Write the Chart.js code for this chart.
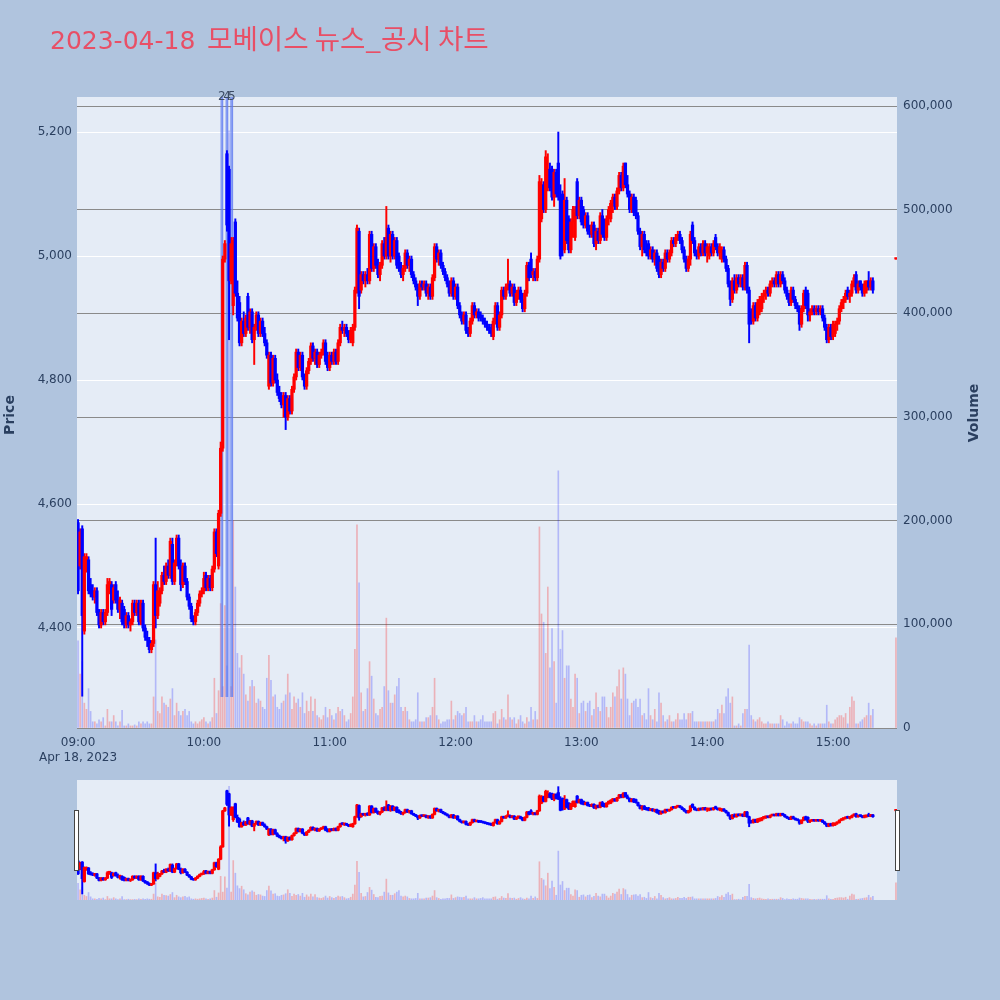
<!DOCTYPE html>
<html>
<head>
<meta charset="utf-8">
<script src="https://cdn.jsdelivr.net/npm/chart.js@4.4.1/dist/chart.umd.min.js"></script>
<style>
  html, body { margin: 0; padding: 0; background: #b0c4de; }
  #wrap { position: relative; width: 1000px; height: 1000px; }
  #main { position: absolute; left: 0; top: 0; }
  #slider { position: absolute; left: 67px; top: 775px; }
</style>
</head>
<body>
<div id="wrap">
  <canvas id="main" width="1000" height="775"></canvas>
  <canvas id="slider" width="840" height="130"></canvas>
</div>
<script>
// 2023-04-18 모베이스, 1분봉 (09:00 ~ 15:19, 15:30 종가)
const titleDate = "2023-04-18";
const titleName = "모베이스 뉴스_공시 차트";
const sessionMinutes = 380;      // 09:00 ~ 15:19
const auctionMinute = 390;       // 15:30 동시호가
const timeTicks = [0, 60, 120, 180, 240, 300, 360];
const timeLabels = ["09:00", "10:00", "11:00", "12:00", "13:00", "14:00", "15:00"];
const dateLabel = "Apr 18, 2023";
const priceTicks = [4400, 4600, 4800, 5000, 5200];
const volumeTicks = [0, 100000, 200000, 300000, 400000, 500000, 600000];

const opens = [
  4570,4500,4560,4395,4495,4510,4470,4460,4450,4460, 4425,4405,4425,4410,4425,4470,4470,4445,4470,4445,
  4430,4440,4430,4405,4420,4405,4410,4440,4425,4440, 4410,4440,4400,4385,4380,4365,4375,4470,4420,4440,
  4460,4485,4475,4500,4485,4535,4475,4505,4545,4500, 4470,4500,4475,4450,4435,4415,4410,4425,4440,4455,
  4460,4485,4465,4480,4465,4495,4555,4500,4585,4690, 4995,5165,5140,4960,4920,5055,4940,4925,4860,4895,
  4875,4935,4885,4910,4865,4885,4905,4875,4895,4875, 4860,4790,4840,4795,4835,4800,4780,4770,4760,4775,
  4740,4770,4750,4785,4805,4845,4820,4840,4805,4790, 4815,4830,4855,4835,4845,4825,4840,4845,4860,4830,
  4820,4840,4830,4845,4830,4860,4885,4880,4885,4875, 4865,4860,4885,4945,5040,4945,4970,4960,4970,4960,
  5035,4980,5015,4985,4970,4985,5020,5000,5045,5000, 5035,5000,5025,5000,4980,4970,4980,5005,4985,4995,
  4970,4960,4950,4935,4955,4950,4955,4940,4950,4935, 4965,5015,4995,5005,4985,4975,4965,4955,4940,4960,
  4935,4950,4920,4905,4895,4905,4880,4875,4895,4920, 4905,4910,4905,4900,4895,4890,4885,4880,4870,4895,
  4920,4885,4905,4945,4935,4950,4955,4940,4950,4925, 4940,4945,4930,4915,4940,4985,4995,4970,4975,4965,
  4995,5060,5115,5075,5110,5140,5140,5095,5135,5150, 5095,5100,5010,5090,5060,5010,5055,5030,5120,5065,
  5090,5075,5050,5065,5040,5035,5050,5020,5040,5025, 5065,5055,5030,5060,5060,5085,5095,5080,5105,5130,
  5110,5150,5115,5100,5075,5095,5090,5065,5040,5015, 5035,5010,5020,5000,5010,4995,5005,4995,4970,4990,
  4980,5005,4995,5005,5025,5020,5030,5035,5025,5010, 4995,4980,4995,5050,5025,5005,5000,5015,5005,5020,
  5005,5000,5015,5005,5030,5015,5005,4995,5010,4995, 4980,4955,4930,4960,4945,4965,4955,4965,4950,4985,
  4945,4910,4895,4920,4900,4910,4915,4935,4940,4945, 4940,4955,4960,4955,4970,4955,4970,4960,4945,4935,
  4925,4945,4930,4920,4915,4890,4915,4945,4940,4905, 4910,4915,4910,4915,4910,4915,4900,4885,4865,4885,
  4870,4875,4890,4895,4915,4925,4930,4945,4935,4940, 4955,4970,4945,4960,4950,4940,4945,4960,4950,4960,
  4995
];
const highs = [
  4575,4560,4565,4520,4520,4515,4480,4470,4465,4465, 4430,4430,4430,4430,4480,4480,4475,4470,4475,4460,
  4450,4445,4435,4425,4425,4415,4445,4445,4445,4445, 4445,4445,4405,4395,4385,4380,4475,4545,4475,4465,
  4490,4500,4505,4510,4545,4545,4510,4550,4550,4510, 4505,4505,4480,4455,4440,4420,4430,4445,4460,4465,
  4490,4490,4485,4485,4500,4560,4560,4590,4700,5000, 5025,5170,5145,5030,5030,5060,4960,4935,4900,4910,
  4905,4940,4915,4915,4890,4910,4910,4900,4900,4885, 4865,4845,4845,4840,4840,4810,4790,4780,4780,4780,
  4775,4775,4790,4810,4850,4850,4845,4845,4810,4820, 4835,4860,4860,4850,4850,4845,4850,4865,4865,4845,
  4845,4845,4850,4850,4865,4890,4895,4890,4890,4880, 4885,4890,4950,5050,5045,4975,4975,4975,4980,5040,
  5040,5020,5020,4995,4990,5025,5030,5080,5050,5040, 5040,5030,5030,5005,4990,4985,5010,5010,5000,5000,
  4975,4965,4955,4960,4960,4960,4960,4955,4955,4970, 5020,5020,5010,5010,4990,4980,4970,4960,4965,4965,
  4955,4955,4925,4910,4910,4910,4885,4900,4925,4925, 4915,4915,4910,4905,4900,4895,4890,4890,4900,4925,
  4925,4910,4950,4950,4955,4995,4960,4955,4955,4945, 4950,4950,4940,4945,4990,4990,5005,4980,4980,5000,
  5130,5125,5120,5170,5165,5150,5145,5140,5140,5200, 5115,5105,5125,5095,5065,5060,5080,5080,5125,5095,
  5095,5080,5070,5070,5050,5055,5055,5045,5045,5070, 5075,5060,5065,5080,5090,5100,5100,5110,5135,5135,
  5150,5150,5130,5105,5100,5100,5095,5070,5045,5040, 5040,5025,5025,5015,5015,5010,5010,5000,4995,4995,
  5010,5010,5010,5030,5030,5035,5040,5040,5030,5015, 5000,5000,5040,5055,5030,5010,5020,5020,5025,5025,
  5020,5020,5020,5025,5035,5020,5020,5015,5015,5000, 4985,4960,4965,4970,4970,4970,4970,4970,4990,4990,
  4950,4915,4925,4925,4930,4935,4940,4945,4950,4950, 4960,4965,4965,4975,4975,4975,4975,4965,4950,4940,
  4950,4950,4935,4925,4920,4920,4945,4950,4945,4915, 4920,4920,4920,4920,4920,4920,4905,4890,4890,4890,
  4895,4895,4900,4920,4930,4935,4945,4950,4945,4960, 4970,4975,4960,4960,4955,4960,4960,4975,4965,4965,
  4995
];
const lows = [
  4455,4495,4290,4390,4490,4455,4450,4445,4440,4420, 4400,4400,4405,4405,4420,4455,4420,4440,4440,4425,
  4415,4405,4400,4400,4400,4395,4405,4420,4420,4405, 4405,4395,4380,4370,4360,4360,4370,4400,4415,4435,
  4455,4470,4470,4480,4480,4470,4470,4500,4495,4460, 4465,4470,4445,4430,4410,4405,4405,4420,4435,4450,
  4455,4460,4460,4460,4460,4490,4515,4495,4580,4685, 4990,5040,4865,4955,4905,4935,4895,4855,4855,4870,
  4870,4880,4875,4860,4825,4880,4870,4870,4870,4855, 4835,4785,4790,4790,4795,4775,4765,4755,4740,4720,
  4735,4745,4745,4780,4800,4815,4815,4800,4785,4785, 4810,4825,4830,4825,4820,4820,4835,4840,4825,4815,
  4815,4825,4825,4825,4825,4855,4875,4870,4870,4860, 4860,4855,4880,4940,4915,4940,4955,4950,4955,4955,
  4975,4975,4980,4965,4960,4980,4995,4995,4995,4990, 4995,4995,4980,4975,4965,4960,4975,4980,4975,4965,
  4955,4945,4920,4930,4945,4945,4935,4930,4930,4930, 4960,4990,4985,4980,4970,4960,4950,4935,4935,4930,
  4930,4915,4900,4890,4890,4875,4870,4870,4890,4900, 4900,4895,4895,4890,4885,4880,4875,4870,4865,4890,
  4880,4880,4900,4930,4930,4945,4935,4935,4920,4920, 4930,4925,4910,4910,4935,4960,4965,4960,4960,4960,
  4990,5055,5070,5070,5105,5105,5090,5080,5095,5090, 4995,5000,5005,5020,5005,5005,5030,5025,5060,5060,
  5050,5045,5045,5035,5030,5030,5015,5010,5020,5020, 5030,5025,5025,5050,5055,5070,5075,5075,5100,5105,
  5105,5110,5095,5070,5070,5065,5060,5035,5010,5000, 5005,5000,4995,4995,4990,4985,4975,4965,4965,4975,
  4975,4990,4990,5000,5015,5015,5025,5020,5005,4990, 4975,4975,4985,5020,5000,4995,4995,5000,5000,5000,
  4990,4995,5000,5000,5010,5000,4995,4990,4990,4975, 4950,4920,4925,4940,4940,4950,4950,4945,4945,4940,
  4860,4890,4890,4895,4895,4905,4910,4925,4930,4935, 4935,4950,4950,4950,4950,4950,4955,4940,4930,4920,
  4920,4925,4915,4910,4880,4885,4910,4915,4895,4895, 4905,4905,4905,4905,4905,4895,4880,4860,4860,4865,
  4865,4870,4880,4890,4910,4915,4925,4930,4925,4935, 4950,4940,4940,4945,4935,4935,4940,4945,4945,4940,
  4995
];
const closes = [
  4460,4555,4420,4515,4515,4460,4455,4450,4460,4425, 4405,4425,4410,4425,4470,4475,4430,4465,4445,4430,
  4445,4410,4405,4420,4405,4410,4440,4425,4440,4410, 4440,4400,4385,4380,4365,4375,4470,4420,4460,4460,
  4485,4475,4500,4485,4540,4475,4505,4545,4500,4470, 4500,4475,4450,4435,4415,4410,4425,4440,4455,4460,
  4480,4465,4480,4465,4495,4555,4520,4585,4690,4995, 5020,5050,4960,5020,5025,4940,4900,4860,4895,4875,
  4900,4885,4910,4865,4885,4905,4875,4895,4875,4860, 4840,4840,4795,4835,4800,4780,4770,4760,4775,4740,
  4770,4750,4785,4805,4845,4820,4840,4805,4790,4815, 4830,4855,4835,4845,4825,4840,4845,4860,4830,4820,
  4840,4830,4845,4830,4860,4885,4880,4885,4875,4865, 4880,4885,4945,5045,4935,4970,4960,4970,4960,5035,
  4980,5015,4985,4970,4985,5020,5000,5030,5000,5035, 5000,5025,4985,4980,4970,4980,5005,4985,4995,4970,
  4960,4950,4935,4955,4950,4955,4940,4950,4935,4965, 5015,4995,5005,4985,4975,4965,4955,4940,4960,4935,
  4950,4920,4905,4895,4905,4880,4875,4895,4920,4905, 4910,4900,4900,4895,4890,4885,4880,4875,4895,4920,
  4885,4905,4945,4935,4950,4955,4940,4950,4925,4940, 4945,4930,4915,4940,4985,4965,4970,4975,4965,4995,
  5120,5115,5075,5160,5140,5110,5095,5135,5100,5095, 5000,5010,5090,5025,5010,5055,5075,5070,5065,5090,
  5055,5050,5065,5040,5035,5050,5020,5040,5025,5065, 5035,5030,5060,5075,5085,5095,5080,5105,5130,5110,
  5145,5115,5100,5075,5095,5070,5065,5040,5015,5035, 5010,5005,5000,5010,4995,5005,4980,4970,4990,4980,
  5005,4995,5005,5025,5020,5030,5035,5025,5010,4995, 4980,4995,5035,5025,5005,5000,5015,5005,5020,5005,
  5015,5015,5005,5020,5015,5005,5015,5010,4995,4980, 4955,4930,4960,4945,4965,4955,4965,4950,4985,4945,
  4890,4895,4920,4900,4925,4930,4935,4940,4945,4940, 4955,4960,4955,4970,4955,4970,4960,4945,4935,4925,
  4945,4930,4920,4915,4890,4915,4940,4920,4905,4910, 4915,4910,4915,4910,4915,4900,4885,4865,4885,4870,
  4890,4890,4895,4915,4925,4930,4940,4935,4940,4955, 4965,4945,4955,4950,4940,4955,4960,4950,4960,4945,
  4995
];
// 거래량 (천 주)
const volumeThousands = [
  84,52,64,24,18,38,16,6,6,4, 8,6,10,2,18,6,6,12,6,2,
  6,17,2,2,4,2,2,3,2,6, 4,6,4,6,4,4,30,85,16,14,
  30,24,22,20,28,38,12,24,16,12, 16,18,12,16,6,4,6,4,6,8,
  10,6,4,6,10,48,14,36,120,40, 118,60,576,40,200,136,72,58,70,52,
  32,26,40,46,40,24,28,26,20,18, 48,70,46,30,32,20,18,24,26,32,
  52,34,18,30,24,28,20,34,14,26, 16,30,16,28,12,10,8,12,20,10,
  18,12,8,14,20,16,18,12,6,8, 14,30,76,196,140,34,16,18,38,64,
  50,28,14,12,18,20,40,106,36,24, 24,32,40,48,20,16,20,16,8,6,
  6,8,34,6,6,6,10,10,12,20, 48,12,8,4,6,6,8,8,26,8,
  12,16,14,12,14,20,6,6,6,12, 6,6,8,12,6,6,6,6,14,16,
  4,8,18,10,8,32,10,8,10,4, 8,12,6,4,10,6,20,8,16,8,
  194,110,102,72,136,58,96,64,24,248, 76,94,48,60,60,28,20,52,48,14,
  24,26,16,24,26,12,18,34,20,16, 30,30,20,10,20,34,30,40,56,28,
  58,52,28,12,24,26,28,20,28,12, 14,8,38,12,8,18,6,34,24,12,
  6,8,12,6,6,8,14,8,8,14, 8,14,14,16,6,6,6,6,6,6,
  6,6,6,6,8,18,14,22,14,30, 38,24,30,2,2,4,2,14,18,18,
  80,12,8,6,8,10,6,4,4,6, 4,4,4,4,4,12,8,2,6,4,
  4,6,4,4,10,8,6,6,6,4, 2,4,2,4,4,4,4,22,6,4,
  4,8,10,12,12,10,14,4,20,30, 26,4,4,6,8,10,12,24,12,18,
  87
];
// 뉴스/공시 표시 (분, 라벨)
const newsMinutes = [68.6, 71.0, 73.3];
const newsLabels = ["2", "4", "5"];

const fontFamily = '"DejaVu Sans", "Noto Sans CJK KR", sans-serif';
const tickColor = "#2a3f5f";
const UP = "#ff0000", DOWN = "#0000ff";

const xs = opens.map((_, i) => (i < sessionMinutes ? i : auctionMinute));
const isUp = opens.map((o, i) => closes[i] >= o);
const candleColors = isUp.map((u) => (u ? UP : DOWN));
const volumeColors = isUp.map((u) => (u ? "rgba(255,0,0,0.25)" : "rgba(0,0,255,0.22)"));

const plotBg = {
  id: "plotBg",
  beforeDraw(chart) {
    const { ctx, chartArea: a } = chart;
    ctx.save();
    ctx.fillStyle = "#e5ecf6";
    ctx.fillRect(a.left, a.top, a.right - a.left, a.bottom - a.top);
    ctx.restore();
  }
};

const mainText = {
  id: "mainText",
  afterDraw(chart) {
    const ctx = chart.ctx;
    ctx.save();
    ctx.fillStyle = "#e84f66";
    ctx.textBaseline = "alphabetic";
    ctx.font = "25px " + fontFamily;
    ctx.fillText(titleDate, 50, 49);
    ctx.font = '27.6px "Noto Sans CJK KR", ' + fontFamily;
    ctx.fillText(titleName, 207, 49);

    ctx.fillStyle = tickColor;
    ctx.font = "bold 14px " + fontFamily;
    ctx.textAlign = "center";
    ctx.textBaseline = "middle";
    ctx.translate(10, 415);
    ctx.rotate(-Math.PI / 2);
    ctx.fillText("Price", 0, 0);
    ctx.restore();

    ctx.save();
    ctx.fillStyle = tickColor;
    ctx.font = "bold 14px " + fontFamily;
    ctx.textAlign = "center";
    ctx.textBaseline = "middle";
    ctx.translate(974, 413);
    ctx.rotate(-Math.PI / 2);
    ctx.fillText("Volume", 0, 0);
    ctx.restore();

    // 뉴스 라벨
    ctx.save();
    ctx.fillStyle = "#3b4a63";
    ctx.font = "12px " + fontFamily;
    ctx.textAlign = "center";
    ctx.textBaseline = "middle";
    newsMinutes.forEach((m, i) => {
      ctx.fillText(newsLabels[i], chart.scales.x.getPixelForValue(m), chart.chartArea.top);
    });
    ctx.restore();
  }
};

const sliderHandles = {
  id: "sliderHandles",
  afterDraw(chart) {
    const { ctx, chartArea: a } = chart;
    ctx.save();
    ctx.fillStyle = "#ffffff";
    ctx.strokeStyle = "#444444";
    ctx.lineWidth = 1;
    [a.left - 3, a.right - 2].forEach((x) => {
      ctx.fillRect(x, a.top + 30, 4, 60);
      ctx.strokeRect(x + 0.5, a.top + 30.5, 4, 60);
    });
    ctx.restore();
  }
};

function datasets(withNews, bodyW, wickW) {
  const list = [
    {
      data: xs.map((x, i) => ({ x, y: [Math.min(opens[i], closes[i]), Math.max(opens[i], closes[i])] })),
      backgroundColor: candleColors, barThickness: bodyW, minBarLength: 1.5,
      yAxisID: "y", order: 0
    },
    {
      data: xs.map((x, i) => ({ x, y: [lows[i], highs[i]] })),
      backgroundColor: candleColors, barThickness: wickW, minBarLength: 1,
      yAxisID: "y", order: 1
    },
    {
      data: xs.map((x, i) => ({ x, y: volumeThousands[i] * 1000 })),
      backgroundColor: volumeColors, barThickness: 1,
      yAxisID: "y1", order: 3
    }
  ];
  if (withNews) {
    list.push({
      data: newsMinutes.map((m) => ({ x: m, y: [30000, 2000000] })),
      backgroundColor: "rgba(140,160,255,0.15)",
      borderColor: "rgba(90,120,240,0.8)",
      borderWidth: { left: 1, right: 1, top: 0, bottom: 0 },
      borderSkipped: false,
      barThickness: 2.5,
      yAxisID: "y1", order: 2
    });
  }
  list.forEach((d) => { d.grouped = false; });
  return list;
}

function fixTicks(values) {
  return (scale) => { scale.ticks = values.map((v) => ({ value: v })); };
}

Chart.defaults.font.family = fontFamily;

new Chart(document.getElementById("main"), {
  type: "bar",
  data: { datasets: datasets(true, 2.6, 1.3) },
  options: {
    responsive: false,
    animation: false,
    events: [],
    layout: { padding: { top: 97, left: 0, right: 0, bottom: 0 } },
    plugins: { legend: { display: false }, tooltip: { enabled: false } },
    scales: {
      x: {
        type: "linear", min: -0.5, max: 390.5, offset: false,
        afterBuildTicks: fixTicks(timeTicks),
        afterFit: (s) => { s.height = 47; },
        grid: { display: false, drawTicks: false },
        border: { display: false },
        ticks: {
          padding: 7, color: tickColor, maxRotation: 0, autoSkip: false,
          font: { size: 12, lineHeight: 1.25 },
          callback: (v) => {
            const i = timeTicks.indexOf(v);
            return i === 0 ? [timeLabels[0], dateLabel] : timeLabels[i];
          }
        }
      },
      y: {
        position: "left", min: 4238.7, max: 5256.5,
        afterBuildTicks: fixTicks(priceTicks),
        afterFit: (s) => { s.width = 77; },
        grid: { color: "#ffffff", lineWidth: 1, drawTicks: false },
        border: { display: false },
        ticks: { padding: 5, color: tickColor, font: { size: 12 }, callback: (v) => v.toLocaleString("en-US") }
      },
      y1: {
        position: "right", min: 0, max: 608700,
        afterBuildTicks: fixTicks(volumeTicks),
        afterFit: (s) => { s.width = 103; },
        grid: { color: "#8a8a8a", lineWidth: 1, drawTicks: false },
        border: { display: false },
        ticks: { padding: 6, color: tickColor, font: { size: 12 }, callback: (v) => v.toLocaleString("en-US") }
      }
    }
  },
  plugins: [plotBg, mainText]
});

new Chart(document.getElementById("slider"), {
  type: "bar",
  data: { datasets: datasets(false, 2.6, 1.3) },
  options: {
    responsive: false,
    animation: false,
    events: [],
    layout: { padding: { top: 5, left: 10, right: 10, bottom: 5 } },
    plugins: { legend: { display: false }, tooltip: { enabled: false } },
    scales: {
      x: { type: "linear", min: -0.5, max: 390.5, offset: false, display: false },
      y: { min: 4238.7, max: 5256.5, display: false },
      y1: { min: 0, max: 608700, display: false }
    }
  },
  plugins: [plotBg, sliderHandles]
});
</script>
</body>
</html>
